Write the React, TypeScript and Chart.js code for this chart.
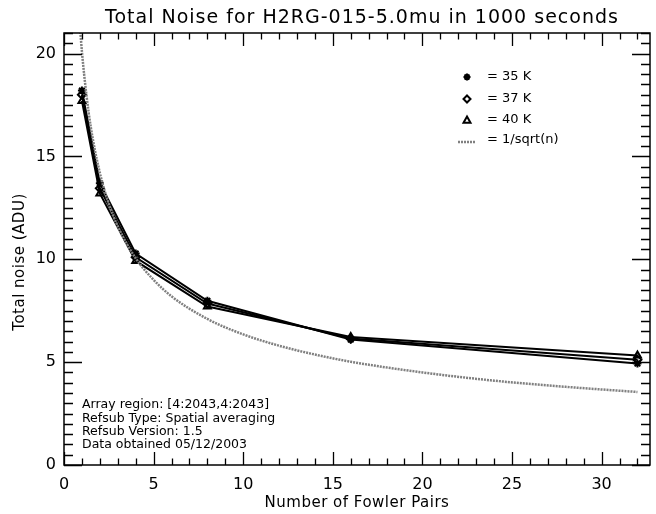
import React, { useEffect, useRef } from "react";
import { Chart, registerables } from "chart.js";

Chart.register(...registerables);

// ---- data ----
const fowlerPairs = [1, 2, 4, 8, 16, 32];
const noise35K = [18.2, 13.7, 10.28, 7.98, 6.1, 4.93];
const noise37K = [18.0, 13.45, 10.1, 7.85, 6.15, 5.12];
const noise40K = [17.7, 13.2, 9.92, 7.7, 6.22, 5.32];

const curveN = [0.9, 1, 1.25, 1.5, 2, 2.5, 3, 4, 5, 6, 8, 10, 12, 14, 16, 20, 24, 28, 32];
const curveNoise = [21.2, 20.1, 18.0, 16.4, 14.2, 12.7, 11.6, 10.05, 9.0, 8.2, 7.1, 6.35, 5.8, 5.37, 5.02, 4.5, 4.1, 3.8, 3.55];

const xTickValues = [0, 5, 10, 15, 20, 25, 30];
const yTickValues = [0, 5, 10, 15, 20];
const xRange = [0, 32.7];
const yRange = [0, 21];

const titleText = "Total Noise for H2RG-015-5.0mu in 1000 seconds";
const xTitle = "Number of Fowler Pairs";
const yTitle = "Total noise (ADU)";
const legendLabels = ["= 35 K", "= 37 K", "= 40 K", "= 1/sqrt(n)"];
const notes = [
  "Array region: [4:2043,4:2043]",
  "Refsub Type: Spatial averaging",
  "Refsub Version: 1.5",
  "Data obtained 05/12/2003",
];

const FONT = '"DejaVu Sans", sans-serif';

function drawMarker(ctx: CanvasRenderingContext2D, kind: string, x: number, y: number, r: number) {
  ctx.beginPath();
  if (kind === "star") {
    ctx.moveTo(x - r, y); ctx.lineTo(x + r, y);
    ctx.moveTo(x, y - r); ctx.lineTo(x, y + r);
    const d = r * 0.707;
    ctx.moveTo(x - d, y - d); ctx.lineTo(x + d, y + d);
    ctx.moveTo(x - d, y + d); ctx.lineTo(x + d, y - d);
    ctx.stroke();
  } else if (kind === "diamond") {
    ctx.moveTo(x, y - r); ctx.lineTo(x + r, y); ctx.lineTo(x, y + r); ctx.lineTo(x - r, y); ctx.closePath();
    ctx.stroke();
  } else {
    ctx.moveTo(x, y - r); ctx.lineTo(x + r, y + r * 0.8); ctx.lineTo(x - r, y + r * 0.8); ctx.closePath();
    ctx.stroke();
  }
}

const idlPlugin = {
  id: "idlAxes",
  afterDraw(chart: any) {
    const { ctx, chartArea: a, scales } = chart;
    const xs = scales.x, ys = scales.y;
    ctx.save();
    ctx.strokeStyle = "#000";
    ctx.lineWidth = 1.5;
    ctx.strokeRect(a.left, a.top, a.right - a.left, a.bottom - a.top);
    ctx.lineWidth = 1.3;
    ctx.beginPath();
    for (let v = xRange[0]; v <= xRange[1]; v += 1) {
      const px = Math.round(xs.getPixelForValue(v)) + 0.5;
      const len = v % 5 === 0 ? 13 : 6.5;
      ctx.moveTo(px, a.bottom); ctx.lineTo(px, a.bottom - len);
      ctx.moveTo(px, a.top); ctx.lineTo(px, a.top + len);
    }
    for (let i = 0; i <= yRange[1] * 2; i++) {
      const v = i / 2;
      const py = Math.round(ys.getPixelForValue(v)) + 0.5;
      const len = i % 10 === 0 ? 18 : 9;
      ctx.moveTo(a.left, py); ctx.lineTo(a.left + len, py);
      ctx.moveTo(a.right, py); ctx.lineTo(a.right - len, py);
    }
    ctx.stroke();

    // texts
    ctx.fillStyle = "#000";
    ctx.textBaseline = "middle";
    ctx.textAlign = "center";
    ctx.font = `19px ${FONT}`;
    (ctx as any).letterSpacing = "1px";
    ctx.fillText(titleText, 362, 18);
    (ctx as any).letterSpacing = "0.5px";
    ctx.font = `15px ${FONT}`;
    ctx.fillText(xTitle, (a.left + a.right) / 2, 503);
    ctx.save();
    ctx.translate(20, 262);
    ctx.rotate(-Math.PI / 2);
    ctx.fillText(yTitle, 0, 0);
    ctx.restore();
    (ctx as any).letterSpacing = "0px";

    // legend
    ctx.font = `13px ${FONT}`;
    ctx.textAlign = "left";
    const rows = [77, 99, 120, 140];
    const kinds = ["star", "diamond", "triangle"];
    ctx.lineWidth = 2;
    kinds.forEach((k, i) => drawMarker(ctx, k, 467, rows[i], 3.5));
    ctx.save();
    ctx.strokeStyle = "#808080";
    ctx.lineWidth = 2.5;
    ctx.setLineDash([2, 1]);
    ctx.beginPath();
    ctx.moveTo(458, rows[3] + 2); ctx.lineTo(476, rows[3] + 2);
    ctx.stroke();
    ctx.restore();
    legendLabels.forEach((t, i) => ctx.fillText(t, 487, rows[i]));

    // notes
    ctx.font = `12.5px ${FONT}`;
    notes.forEach((t, i) => ctx.fillText(t, 82, 405 + i * 13.3));
    ctx.restore();
  },
};

export default function App() {
  const ref = useRef<HTMLCanvasElement | null>(null);
  useEffect(() => {
    if (!ref.current) return;
    const lineStyle = {
      borderColor: "#000",
      backgroundColor: "#fff",
      borderWidth: 2,
      pointBorderColor: "#000",
      pointBackgroundColor: "rgba(255,255,255,0)",
      pointBorderWidth: 2,
      pointRadius: 4,
      tension: 0,
    };
    const chart = new Chart(ref.current, {
      type: "line",
      data: {
        datasets: [
          {
            label: "1/sqrt(n)",
            data: curveN.map((n, i) => ({ x: n, y: curveNoise[i] })),
            borderColor: "#808080",
            borderWidth: 2.5,
            borderDash: [2, 1],
            pointRadius: 0,
            cubicInterpolationMode: "monotone",
          } as any,
          { label: "35 K", data: fowlerPairs.map((n, i) => ({ x: n, y: noise35K[i] })), pointStyle: "star", ...lineStyle },
          { label: "37 K", data: fowlerPairs.map((n, i) => ({ x: n, y: noise37K[i] })), pointStyle: "rectRot", ...lineStyle },
          { label: "40 K", data: fowlerPairs.map((n, i) => ({ x: n, y: noise40K[i] })), pointStyle: "triangle", ...lineStyle },
        ],
      },
      options: {
        animation: false,
        responsive: false,
        devicePixelRatio: 1,
        layout: { padding: { top: 33, right: 1, left: 0, bottom: 0 } },
        plugins: { legend: { display: false }, title: { display: false }, tooltip: { enabled: false } },
        scales: {
          x: {
            type: "linear",
            min: xRange[0],
            max: xRange[1],
            grid: { display: false, drawTicks: false },
            border: { display: false },
            afterBuildTicks: (s: any) => { s.ticks = xTickValues.map((v) => ({ value: v })); },
            afterFit: (s: any) => { s.height = 49; },
            ticks: { color: "#000", font: { family: FONT, size: 16 }, padding: 10, maxRotation: 0, autoSkip: false },
          },
          y: {
            type: "linear",
            min: yRange[0],
            max: yRange[1],
            grid: { display: false, drawTicks: false },
            border: { display: false },
            afterBuildTicks: (s: any) => { s.ticks = yTickValues.map((v) => ({ value: v })); },
            afterFit: (s: any) => { s.width = 64; },
            ticks: { color: "#000", font: { family: FONT, size: 16 }, padding: 8, autoSkip: false },
          },
        },
      },
      plugins: [idlPlugin],
    } as any);
    return () => chart.destroy();
  }, []);
  return (
    <div style={{ position: "fixed", left: 0, top: 0, width: 656, height: 514, background: "#fff" }}>
      <canvas ref={ref} width={656} height={514} style={{ width: 656, height: 514 }} />
    </div>
  );
}
